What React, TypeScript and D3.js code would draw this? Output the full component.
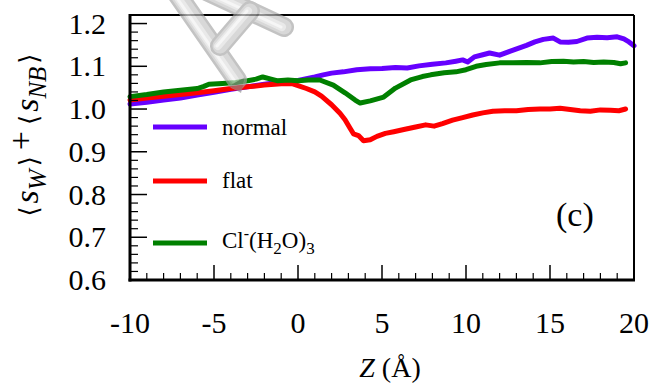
import React from "react";
import * as d3 from "d3";

// <s_W> + <s_NB> profiles along Z (Å)
const normalData: [number, number][] = [
  [-10, 1.012], [-9, 1.016], [-8, 1.021], [-7, 1.026], [-6, 1.033], [-5, 1.039],
  [-4, 1.046], [-3, 1.052], [-2, 1.058], [-1, 1.063], [0, 1.067], [0.5, 1.071],
  [1, 1.075], [1.5, 1.08], [2, 1.084], [2.7, 1.087], [3.5, 1.092], [4.3, 1.094],
  [5, 1.095], [5.8, 1.097], [6.5, 1.096], [7.2, 1.101], [8, 1.105], [8.8, 1.108],
  [9.4, 1.112], [9.8, 1.115], [10.1, 1.11], [10.5, 1.122], [11, 1.127], [11.4, 1.131],
  [12, 1.126], [12.6, 1.135], [13.1, 1.142], [13.6, 1.149], [14.1, 1.157], [14.6, 1.163],
  [15.2, 1.166], [15.6, 1.157], [16.1, 1.156], [16.6, 1.158], [17.2, 1.166], [17.8, 1.168],
  [18.4, 1.167], [19, 1.169], [19.4, 1.164], [19.7, 1.157], [20, 1.148],
];

const flatData: [number, number][] = [
  [-10, 1.021], [-9, 1.026], [-8, 1.03], [-7, 1.034], [-6, 1.038], [-5, 1.043],
  [-4, 1.048], [-3, 1.052], [-2, 1.056], [-1, 1.059], [-0.4, 1.06], [0, 1.055],
  [0.5, 1.048], [1, 1.04], [1.4, 1.03], [2, 1.01], [2.5, 0.99], [2.8, 0.975],
  [3.1, 0.955], [3.3, 0.942], [3.6, 0.938], [3.9, 0.926], [4.3, 0.928], [4.7, 0.936],
  [5.2, 0.943], [5.7, 0.947], [6.3, 0.952], [7, 0.958], [7.6, 0.963], [8.1, 0.96],
  [8.6, 0.966], [9.2, 0.974], [9.8, 0.98], [10.4, 0.986], [11, 0.991], [11.6, 0.995],
  [12.3, 0.996], [13, 0.996], [13.7, 0.999], [14.4, 1.0], [15, 1.0], [15.6, 1.002],
  [16.2, 0.999], [16.8, 0.996], [17.4, 0.995], [18, 0.998], [18.6, 0.997], [19.1, 0.996],
  [19.5, 1.0],
];

const clusterData: [number, number][] = [
  [-10, 1.029], [-9, 1.034], [-8, 1.04], [-7, 1.044], [-6, 1.048], [-5.6, 1.053],
  [-5.3, 1.058], [-4.5, 1.06], [-3.7, 1.062], [-3, 1.066], [-2.5, 1.07], [-2.1, 1.075],
  [-1.6, 1.07], [-1.2, 1.066], [-0.6, 1.068], [0, 1.066], [0.6, 1.068], [1.3, 1.068],
  [2.1, 1.056], [2.8, 1.038], [3.4, 1.021], [3.7, 1.014], [4.3, 1.019], [5.1, 1.028],
  [5.8, 1.049], [6.7, 1.068], [7.4, 1.076], [7.9, 1.08], [8.7, 1.085], [9.4, 1.087],
  [10, 1.092], [10.6, 1.1], [11.2, 1.104], [12, 1.108], [12.8, 1.108], [13.6, 1.109],
  [14.4, 1.108], [15.1, 1.111], [15.8, 1.112], [16.4, 1.11], [17, 1.111], [17.6, 1.109],
  [18.2, 1.11], [18.8, 1.109], [19.2, 1.106], [19.5, 1.108],
];

const seriesData = [normalData, flatData, clusterData];
const seriesColors = ["#6600ff", "#ff0000", "#008000"];
const xTicks = [-10, -5, 0, 5, 10, 15, 20];
const yTicks = [0.6, 0.7, 0.8, 0.9, 1.0, 1.1, 1.2];

const W = 651;
const H = 385;
const margin = { top: 15, right: 17, bottom: 105, left: 130 };
const FONT = "Liberation Serif, Times New Roman, serif";
const BRACKET_FONT = "DejaVu Serif, serif";

// decorative molecule sticks (screen space)
const sticks = [
  { x1: 166, y1: -22, x2: 237, y2: 80 },
  { x1: 200, y1: -12, x2: 284, y2: 27 },
  { x1: 220, y1: 46, x2: 250, y2: 11 },
];

export default function App() {
  const x = d3.scaleLinear().domain([-10, 20]).range([margin.left, W - margin.right]);
  const y = d3.scaleLinear().domain([0.6, 1.22]).range([H - margin.bottom, margin.top]);
  const line = d3
    .line<[number, number]>()
    .x((d) => x(d[0]))
    .y((d) => y(d[1]));

  const x0 = margin.left;
  const x1 = W - margin.right;
  const y0 = H - margin.bottom;
  const y1 = margin.top;

  const xMinor = d3.range(-10, 21).filter((v) => v % 5 !== 0);
  const yMinor = d3
    .range(30, 61)
    .map((i) => i * 0.02)
    .filter((v) => Math.abs(v * 10 - Math.round(v * 10)) > 1e-6);

  const legendY = [127, 181, 243];

  return (
    <svg
      width={W}
      height={H}
      style={{ position: "absolute", left: 0, top: 0, background: "#fff", fontFamily: FONT }}
    >
      <rect width={W} height={H} fill="#fff" />

      {/* curves */}
      {seriesData.map((d, i) => (
        <path
          key={i}
          d={line(d) || ""}
          fill="none"
          stroke={seriesColors[i]}
          strokeWidth={5}
          strokeLinejoin="round"
          strokeLinecap="round"
        />
      ))}

      {/* frame */}
      <line x1={x0} y1={y1} x2={x1} y2={y1} stroke="#000" strokeWidth={2} />
      <line x1={x1} y1={y1} x2={x1} y2={y0} stroke="#000" strokeWidth={2} />
      <line x1={x0} y1={y1 - 1} x2={x0} y2={y0 + 1.5} stroke="#000" strokeWidth={3} />
      <line x1={x0 - 1.5} y1={y0} x2={x1 + 1} y2={y0} stroke="#000" strokeWidth={3} />

      {/* x ticks */}
      {xTicks.map((t) => (
        <line key={"xM" + t} x1={x(t)} x2={x(t)} y1={y0} y2={y0 - 15} stroke="#000" strokeWidth={1.5} />
      ))}
      {xMinor.map((t) => (
        <line key={"xm" + t} x1={x(t)} x2={x(t)} y1={y0} y2={y0 - 7} stroke="#000" strokeWidth={1.2} />
      ))}
      {xTicks.map((t) => (
        <text key={"xl" + t} x={x(t)} y={333} fontSize={30} textAnchor="middle">
          {t}
        </text>
      ))}

      {/* y ticks */}
      {yTicks.map((t) => (
        <line key={"yM" + t} x1={x0} x2={x0 + 17} y1={y(t)} y2={y(t)} stroke="#000" strokeWidth={1.5} />
      ))}
      {yMinor.map((t) => (
        <line key={"ym" + t} x1={x0} x2={x0 + 8} y1={y(t)} y2={y(t)} stroke="#000" strokeWidth={1.2} />
      ))}
      {yTicks.map((t) => (
        <text key={"yl" + t} x={106} y={y(t) + 10} fontSize={30} textAnchor="end">
          {t.toFixed(1)}
        </text>
      ))}

      {/* legend */}
      {legendY.map((ly, i) => (
        <line key={"lg" + i} x1={153} x2={207} y1={ly} y2={ly} stroke={seriesColors[i]} strokeWidth={5} />
      ))}
      <text x={222} y={135} fontSize={23}>normal</text>
      <text x={222} y={188} fontSize={23}>flat</text>
      <text x={222} y={248} fontSize={23}>
        Cl
        <tspan dy={-9} fontSize={16}>-</tspan>
        <tspan dy={9}>(H</tspan>
        <tspan dy={6} fontSize={17}>2</tspan>
        <tspan dy={-6}>O)</tspan>
        <tspan dy={6} fontSize={17}>3</tspan>
      </text>

      {/* panel label */}
      <text x={556} y={226} fontSize={34}>(c)</text>

      {/* x title */}
      <text x={390} y={377} fontSize={28} textAnchor="middle">
        <tspan fontStyle="italic">Z</tspan> (Å)
      </text>

      {/* y title */}
      <g transform="translate(38,135) rotate(-90)">
        <text textAnchor="middle" fontSize={34}>
          <tspan fontSize={26} style={{ fontFamily: BRACKET_FONT }}>⟨</tspan>
          <tspan fontStyle="italic" dx={3}>s</tspan>
          <tspan fontStyle="italic" fontSize={25} dy={8}>W</tspan>
          <tspan fontSize={26} dy={-8} dx={3} style={{ fontFamily: BRACKET_FONT }}>⟩</tspan>
          <tspan dx={6} dy={-6}>+</tspan>
          <tspan fontSize={26} dx={6} dy={6} style={{ fontFamily: BRACKET_FONT }}>⟨</tspan>
          <tspan fontStyle="italic" dx={3}>s</tspan>
          <tspan fontStyle="italic" fontSize={25} dy={8}>NB</tspan>
          <tspan fontSize={26} dy={-8} dx={3} style={{ fontFamily: BRACKET_FONT }}>⟩</tspan>
        </text>
      </g>

      {/* molecule decoration */}
      <g opacity={0.65} strokeLinecap="round">
        {sticks.map((s, i) => (
          <g key={"st" + i}>
            <line x1={s.x1} y1={s.y1} x2={s.x2} y2={s.y2} stroke="#a4a4a4" strokeWidth={20} />
            <line x1={s.x1} y1={s.y1} x2={s.x2} y2={s.y2} stroke="#c4c4c4" strokeWidth={15} />
            <line x1={s.x1 - 2} y1={s.y1} x2={s.x2 - 2} y2={s.y2} stroke="#dedede" strokeWidth={8} />
            <line x1={s.x1 - 3} y1={s.y1} x2={s.x2 - 3} y2={s.y2} stroke="#f2f2f2" strokeWidth={3} />
          </g>
        ))}
        <polygon points="229,86 245,77 241,93" fill="#8f8f8f" />
      </g>
    </svg>
  );
}
